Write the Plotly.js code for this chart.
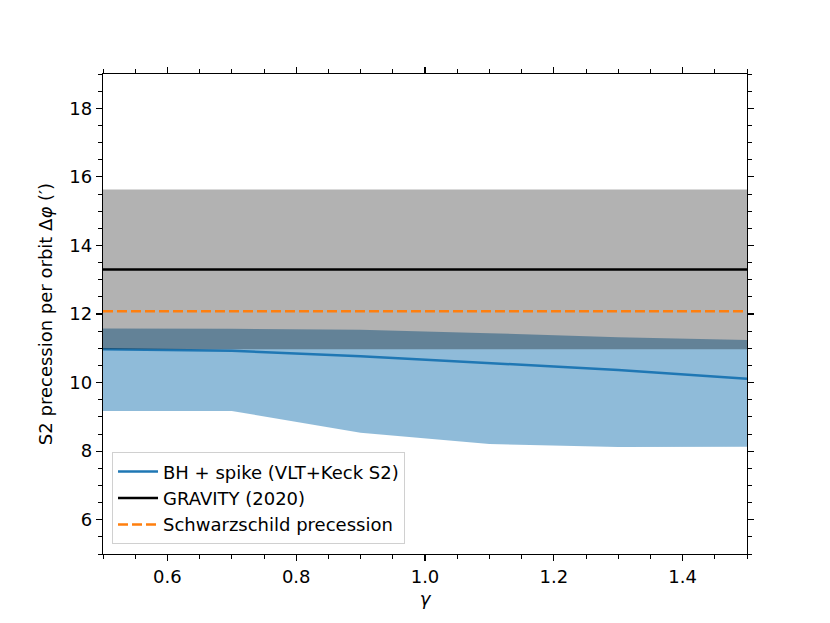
<!doctype html>
<html lang="en">
<head>
    <meta charset="UTF-8">
    <title>S2 precession vs gamma</title>
    <script src="https://cdn.plot.ly/plotly-3.0.1.min.js"></script>
    <style>
        body { margin: 0; background: white; }
        #chart { width: 830px; height: 623px; }
    </style>
</head>
<body>
    <div id="chart"></div>

    <script>
        // spike slope gamma and the BH + spike precession (arcmin per orbit)
        var gamma = [0.5, 0.7, 0.9, 1.1, 1.3, 1.5];
        var spikeMid = [10.97, 10.93, 10.77, 10.58, 10.37, 10.11];
        var spikeLow = [9.17, 9.17, 8.54, 8.21, 8.12, 8.13];
        var spikeHigh = [11.58, 11.57, 11.54, 11.44, 11.32, 11.24];

        // GRAVITY (2020) measurement and band, Schwarzschild value
        var gravityX = [0.5, 1.5];
        var gravityMid = [13.3, 13.3];
        var gravityLow = [10.97, 10.97];
        var gravityHigh = [15.63, 15.63];
        var schwarzschild = [12.08, 12.08];

        var legendNames = ['BH + spike (VLT+Keck S2)', 'GRAVITY (2020)', 'Schwarzschild precession'];

        // closed polygon from a lower and upper edge
        function band(x, lo, hi) {
            return {
                x: x.concat(x.slice().reverse()),
                y: lo.concat(hi.slice().reverse())
            };
        }

        var blueBand = band(gamma, spikeLow, spikeHigh);
        var grayBand = band(gravityX, gravityLow, gravityHigh);

        var traces = [
            {
                x: blueBand.x, y: blueBand.y, mode: 'lines', fill: 'toself',
                fillcolor: 'rgba(31,119,180,0.5)', line: { width: 0 },
                showlegend: false, hoverinfo: 'skip'
            },
            {
                x: gamma, y: spikeMid, mode: 'lines', name: legendNames[0],
                line: { color: '#1f77b4', width: 2.5 }, legendrank: 1
            },
            {
                x: grayBand.x, y: grayBand.y, mode: 'lines', fill: 'toself',
                fillcolor: 'rgba(0,0,0,0.3)', line: { width: 0 },
                showlegend: false, hoverinfo: 'skip'
            },
            {
                x: gravityX, y: gravityMid, mode: 'lines', name: legendNames[1],
                line: { color: 'black', width: 2.5 }, legendrank: 2
            },
            {
                x: gravityX, y: schwarzschild, mode: 'lines', name: legendNames[2],
                line: { color: '#ff7f0e', width: 2.5, dash: '10px,4px' }, legendrank: 3
            },
            // invisible trace so the top/right tick axes get drawn
            {
                x: gravityX, y: schwarzschild, xaxis: 'x2', yaxis: 'y2', mode: 'lines',
                line: { width: 0 }, showlegend: false, hoverinfo: 'skip'
            }
        ];

        var axisFont = { family: 'DejaVu Sans', size: 18, color: 'black' };

        function tickAxis(extra) {
            var ax = {
                ticks: 'outside', ticklen: 6, tickwidth: 1.2, tickcolor: 'black',
                showline: true, linecolor: 'black', linewidth: 1.2,
                showgrid: false, zeroline: false,
                tickfont: axisFont
            };
            for (var k in extra) ax[k] = extra[k];
            return ax;
        }

        var layout = {
            width: 830,
            height: 623,
            margin: { l: 103, r: 83, t: 74, b: 69 },
            paper_bgcolor: 'white',
            plot_bgcolor: 'white',
            font: axisFont,
            showlegend: true,
            legend: {
                x: 0.014, y: 0.02, xanchor: 'left', yanchor: 'bottom',
                bgcolor: 'rgba(255,255,255,0.8)', bordercolor: '#d0d0d0', borderwidth: 1,
                font: axisFont, tracegroupgap: 0, itemwidth: 40
            },
            xaxis: tickAxis({
                range: [0.5, 1.5], tick0: 0, dtick: 0.2, tickformat: '.1f',
                minor: { dtick: 0.05, ticks: 'outside', ticklen: 3.5, tickwidth: 1, tickcolor: 'black' },
                title: { text: '<i>γ</i>', font: axisFont, standoff: 6 }
            }),
            yaxis: tickAxis({
                range: [5, 19], tick0: 0, dtick: 2,
                minor: { dtick: 0.5, ticks: 'outside', ticklen: 3.5, tickwidth: 1, tickcolor: 'black' },
                title: { text: 'S2 precession per orbit Δ<i>φ</i> (′)', font: axisFont, standoff: 12 }
            }),
            xaxis2: tickAxis({
                range: [0.5, 1.5], tick0: 0, dtick: 0.2, overlaying: 'x', side: 'top',
                showticklabels: false,
                minor: { dtick: 0.05, ticks: 'outside', ticklen: 3.5, tickwidth: 1, tickcolor: 'black' }
            }),
            yaxis2: tickAxis({
                range: [5, 19], tick0: 0, dtick: 2, overlaying: 'y', side: 'right',
                showticklabels: false,
                minor: { dtick: 0.5, ticks: 'outside', ticklen: 3.5, tickwidth: 1, tickcolor: 'black' }
            })
        };

        Plotly.newPlot('chart', traces, layout, { displayModeBar: false, staticPlot: true });
    </script>
</body>
</html>
